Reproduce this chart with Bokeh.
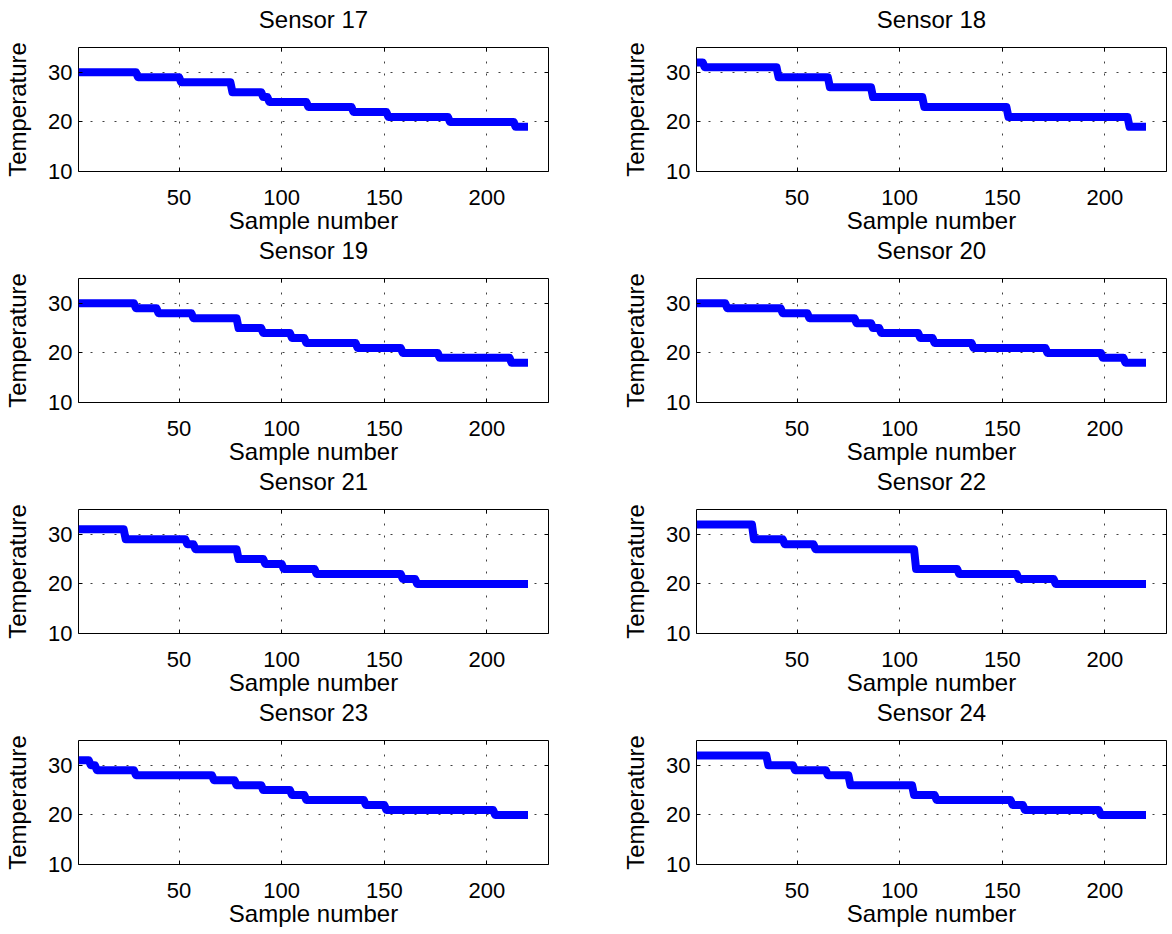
from bokeh.plotting import figure
from bokeh.layouts import column, row
from bokeh.models import Range1d, FixedTicker, LinearAxis
from bokeh.embed import file_html
from bokeh.resources import INLINE

# ---- data: each sensor is a staircase; levels (deg) and last sample of each level ----
n_samples = 220
sensor_titles = ["Sensor 17", "Sensor 18", "Sensor 19", "Sensor 20",
                 "Sensor 21", "Sensor 22", "Sensor 23", "Sensor 24"]

s17_levels = [30, 29, 28, 26, 25, 24, 23, 22, 21, 20, 19]
s17_ends = [29, 50, 75, 90, 93, 112, 134, 151, 181, 213]

s18_levels = [32, 31, 29, 27, 25, 23, 21, 19]
s18_ends = [4, 40, 65, 86, 111, 152, 211]

s19_levels = [30, 29, 28, 27, 25, 24, 23, 22, 21, 20, 19, 18]
s19_ends = [28, 39, 56, 78, 90, 104, 111, 136, 158, 176, 211]

s20_levels = [30, 29, 28, 27, 26, 25, 24, 23, 22, 21, 20, 19, 18]
s20_ends = [15, 42, 55, 78, 86, 90, 109, 116, 135, 171, 198, 209]

s21_levels = [31, 29, 28, 27, 25, 24, 23, 22, 21, 20]
s21_ends = [23, 53, 57, 78, 91, 100, 116, 158, 165]

s22_levels = [32, 29, 28, 27, 23, 22, 21, 20]
s22_ends = [28, 43, 58, 107, 128, 157, 175]

s23_levels = [31, 30, 29, 28, 27, 26, 25, 24, 23, 22, 21, 20]
s23_ends = [6, 9, 28, 66, 77, 90, 104, 111, 140, 150, 203]

s24_levels = [32, 30, 29, 28, 26, 24, 23, 22, 21, 20]
s24_ends = [35, 48, 64, 75, 106, 117, 154, 160, 197]

all_levels = [s17_levels, s18_levels, s19_levels, s20_levels,
              s21_levels, s22_levels, s23_levels, s24_levels]
all_ends = [s17_ends, s18_ends, s19_ends, s20_ends,
            s21_ends, s22_ends, s23_ends, s24_ends]

x_ticks = [50, 100, 150, 200]
y_ticks = [10, 20, 30]
x_lim = (1, 230)
y_lim = (10, 35)


def staircase(levels, ends):
    xs = [1]
    ys = [levels[0]]
    for k, e in enumerate(ends):
        xs += [e, e + 1]
        ys += [levels[k], levels[k + 1]]
    xs.append(n_samples)
    ys.append(levels[-1])
    return xs, ys


FONT = "Liberation Sans"
TOP = 64
BOTTOM = 80
LAST_BOTTOM = 64


def make_fig(title, levels, ends, col, rowi):
    p = figure(
        title=title,
        frame_width=470, frame_height=124,
        x_range=Range1d(*x_lim), y_range=Range1d(*y_lim),
        output_backend="svg", toolbar_location=None,
        min_border_left=78,
        min_border_right=70 if col == 0 else 4,
        min_border_top=TOP,
        min_border_bottom=LAST_BOTTOM if rowi == 3 else BOTTOM,
        background_fill_color="white", border_fill_color="white",
    )
    p.border_fill_alpha = 0
    p.outline_line_color = "black"
    p.outline_line_width = 1
    p.title.align = "center"
    p.title.text_font = FONT
    p.title.text_font_size = "24px"
    p.title.text_font_style = "normal"
    p.title.text_color = "black"
    p.title.standoff = 29

    p.xaxis.ticker = FixedTicker(ticks=x_ticks)
    p.yaxis.ticker = FixedTicker(ticks=y_ticks)
    p.xgrid.ticker = FixedTicker(ticks=x_ticks)
    p.ygrid.ticker = FixedTicker(ticks=y_ticks)
    for g in (p.xgrid, p.ygrid):
        g.grid_line_color = "black"
        g.grid_line_alpha = 0.75
        g.grid_line_dash = "2 10"
        g.grid_line_width = 1

    for ax in (p.xaxis, p.yaxis):
        ax.axis_line_color = None
        ax.major_tick_in = 4
        ax.major_tick_out = 0
        ax.minor_tick_in = 0
        ax.minor_tick_out = 0
        ax.major_tick_line_color = "black"
        ax.major_label_text_font = FONT
        ax.major_label_text_font_size = "22px"
        ax.major_label_text_color = "black"
        ax.axis_label_text_font = FONT
        ax.axis_label_text_font_size = "24px"
        ax.axis_label_text_font_style = "normal"
        ax.axis_label_text_color = "black"
    p.xaxis.axis_label = "Sample number"
    p.yaxis.axis_label = "Temperature"
    p.xaxis.major_label_standoff = 18
    p.xaxis.axis_label_standoff = -1
    p.yaxis.major_label_standoff = 6
    p.yaxis.axis_label_standoff = 14

    # mirrored inside ticks on top and right (box on)
    ax_r = LinearAxis(ticker=FixedTicker(ticks=y_ticks), axis_line_color=None,
                      major_tick_in=4, major_tick_out=0, minor_tick_in=0, minor_tick_out=0,
                      major_label_standoff=0, major_label_text_font_size="0px",
                      major_label_overrides={t: "" for t in y_ticks})
    ax_t = LinearAxis(ticker=FixedTicker(ticks=x_ticks), axis_line_color=None,
                      major_tick_in=4, major_tick_out=0, minor_tick_in=0, minor_tick_out=0,
                      major_label_standoff=0, major_label_text_font_size="0px",
                      major_label_overrides={t: "" for t in x_ticks})
    p.add_layout(ax_r, "right")
    p.add_layout(ax_t, "above")

    xs, ys = staircase(levels, ends)
    p.line(xs, ys, line_color="#0000FF", line_width=8, line_join="round", line_cap="butt")
    return p


figs = [make_fig(t, l, e, i % 2, i // 2)
        for i, (t, l, e) in enumerate(zip(sensor_titles, all_levels, all_ends))]

# frame tops at 47 + 231*r  -> overlap the transparent borders of neighbouring rows
first_margin = 47 - TOP
overlap = 231 - (TOP + 124 + BOTTOM)
rows = []
for r in range(4):
    m = first_margin if r == 0 else overlap
    rows.append(row([figs[2 * r], figs[2 * r + 1]], spacing=0, margin=(m, 0, 0, 0)))
layout = column(rows, spacing=0)

open("out.html", "w").write(file_html(layout, INLINE))
